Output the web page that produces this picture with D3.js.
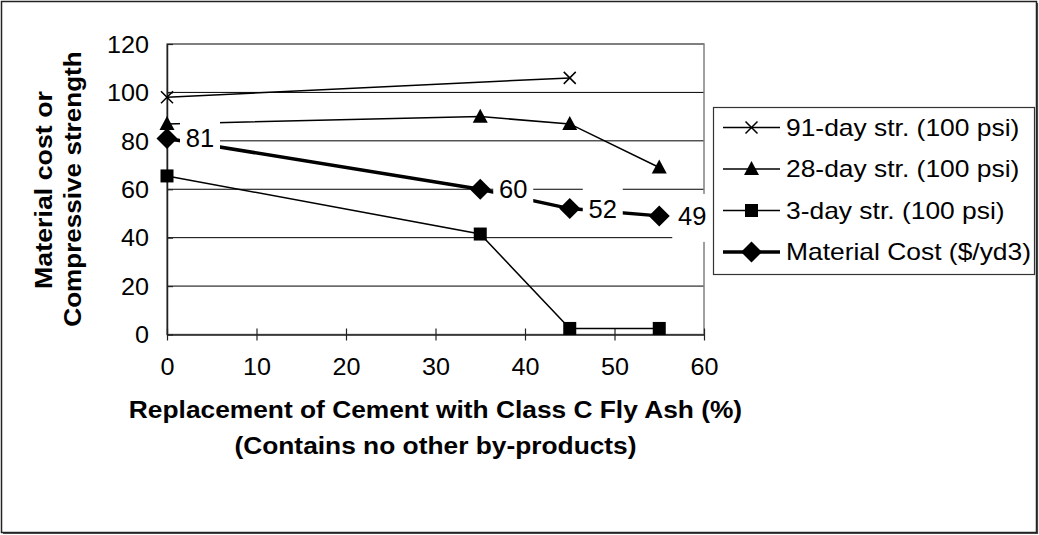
<!DOCTYPE html>
<html><head><meta charset="utf-8">
<script src="https://cdn.jsdelivr.net/npm/d3@7"></script>
<style>body{margin:0;background:#fff}svg{display:block}</style>
</head><body>
<script>
const xValues = [0, 35, 45, 55];
const str91 = [98, null, 106, null];
const str28 = [87, 90, 87, 69];
const str3 = [65.5, 41.5, 2.5, 2.5];
const cost = [81, 60, 52, 49];
const costLabels = ["81", "60", "52", "49"];
const xTicks = [0, 10, 20, 30, 40, 50, 60];
const yTicks = [0, 20, 40, 60, 80, 100, 120];
const legendLabels = ["91-day str. (100 psi)", "28-day str. (100 psi)", "3-day str. (100 psi)", "Material Cost ($/yd3)"];
const xTitle = ["Replacement of Cement with Class C Fly Ash (%)", "(Contains no other by-products)"];
const yTitle = ["Material cost or", "Compressive strength"];

const W = 1039, H = 535;
const FONT = "Arial, 'Liberation Sans', sans-serif";
const svg = d3.select("body").append("svg").attr("width", W).attr("height", H);
svg.append("rect").attr("x",0).attr("y",0).attr("width",W).attr("height",H).attr("fill","#fff");
svg.append("rect").attr("x",1.5).attr("y",1.5).attr("width",1035).attr("height",531)
  .attr("fill","none").attr("stroke","#222").attr("stroke-width",1.5);
svg.append("path").attr("d","M3,533.5H1037.5V3").attr("fill","none").attr("stroke","#444").attr("stroke-width",1.2);

// stretch text along writing direction (the reference font is slightly wide)
function stretch(sel, k){
  sel.each(function(){
    const len = this.getComputedTextLength();
    d3.select(this).attr("textLength", len*k).attr("lengthAdjust","spacingAndGlyphs");
  });
}

const x = d3.scaleLinear().domain([0,60]).range([167,704]);
const y = d3.scaleLinear().domain([0,120]).range([334.5,44]);

// gridlines
svg.append("g").selectAll("line").data(yTicks.filter(d=>d>0)).join("line")
  .attr("x1",x(0)).attr("x2",x(60)).attr("y1",d=>y(d)).attr("y2",d=>y(d))
  .attr("stroke","#000").attr("stroke-width",1);
// plot border
svg.append("rect").attr("x",x(0)).attr("y",y(120)).attr("width",x(60)-x(0)).attr("height",y(0)-y(120))
  .attr("fill","none").attr("stroke","#808080").attr("stroke-width",1.5);

// axes
const xAxis = d3.axisBottom(x).tickValues(xTicks).tickSizeInner(6).tickSizeOuter(0).tickPadding(18);
const gx = svg.append("g").attr("transform",`translate(0,${y(0)})`).call(xAxis);
gx.selectAll(".tick line").attr("y1",-6).attr("stroke","#222").attr("stroke-width",1.2);
gx.select(".domain").attr("stroke","#222").attr("stroke-width",1.5);
gx.selectAll("text").attr("font-family",FONT).attr("font-size",23.5).attr("fill","#000");
stretch(gx.selectAll("text"), 1.07);

const yAxis = d3.axisLeft(y).tickValues(yTicks).tickSizeInner(6).tickSizeOuter(0).tickPadding(12);
const gy = svg.append("g").attr("transform",`translate(${x(0)},0)`).call(yAxis);
gy.selectAll(".tick line").attr("x2",6).attr("stroke","#222").attr("stroke-width",1.2);
gy.select(".domain").attr("stroke","#222").attr("stroke-width",1.5);
gy.selectAll("text").attr("font-family",FONT).attr("font-size",23.5).attr("fill","#000").attr("dy","0.35em");
stretch(gy.selectAll("text"), 1.07);

// series
function pts(vals){ return xValues.map((xv,i)=>[xv, vals[i]]).filter(p=>p[1]!==null); }
const line = d3.line().x(d=>x(d[0])).y(d=>y(d[1]));
const series = [
  {vals:str91, w:1.5, sym:"x"},
  {vals:str28, w:1.5, sym:"tri"},
  {vals:str3, w:1.5, sym:"sq"},
  {vals:cost, w:3.5, sym:"dia"}
];
function drawMarker(g, sym, cx, cy){
  if(sym==="x"){
    g.append("path").attr("d",`M${cx-6},${cy-6}L${cx+6},${cy+6}M${cx-6},${cy+6}L${cx+6},${cy-6}`)
      .attr("stroke","#000").attr("stroke-width",1.5).attr("fill","none");
  } else if(sym==="tri"){
    g.append("path").attr("d",`M${cx},${cy-8}L${cx+7.5},${cy+6}L${cx-7.5},${cy+6}Z`).attr("fill","#000");
  } else if(sym==="sq"){
    g.append("rect").attr("x",cx-6.5).attr("y",cy-6.5).attr("width",13).attr("height",13).attr("fill","#000");
  } else {
    g.append("path").attr("d",`M${cx},${cy-10.5}L${cx+10.5},${cy}L${cx},${cy+10.5}L${cx-10.5},${cy}Z`).attr("fill","#000");
  }
}
series.forEach(s=>{
  const p = pts(s.vals);
  svg.append("path").attr("d",line(p)).attr("fill","none").attr("stroke","#000").attr("stroke-width",s.w);
  const g = svg.append("g");
  p.forEach(d=>drawMarker(g, s.sym, x(d[0]), y(d[1])));
});

// data labels with white background
const lg = svg.append("g");
xValues.forEach((xv,i)=>{
  const cx = x(xv)+33, cy = y(cost[i]);
  lg.append("rect").attr("x",cx-20).attr("y",cy-22).attr("width",40).attr("height",48).attr("fill","#fff");
  lg.append("text").attr("x",cx).attr("y",cy).attr("dy","0.35em").attr("text-anchor","middle")
    .attr("font-family",FONT).attr("font-size",25.5).text(costLabels[i]);
});

// legend
const leg = svg.append("g");
leg.append("rect").attr("x",713.5).attr("y",107.5).attr("width",321).attr("height",167)
  .attr("fill","#fff").attr("stroke","#333").attr("stroke-width",1.2);
const legSyms = ["x","tri","sq","dia"];
const legW = [1.5,1.5,1.5,3.5];
legendLabels.forEach((t,i)=>{
  const ly = 127.5 + i*41.5;
  leg.append("line").attr("x1",723).attr("x2",780).attr("y1",ly).attr("y2",ly)
    .attr("stroke","#000").attr("stroke-width",legW[i]);
  drawMarker(leg, legSyms[i], 751.5, ly);
  const tx = leg.append("text").attr("x",786).attr("y",ly).attr("dy","0.35em")
    .attr("font-family",FONT).attr("font-size",24).text(t);
  stretch(tx, 1.1);
});

// axis titles
const cxT = (x(0)+x(60))/2;
const t1 = svg.append("text").attr("x",cxT).attr("y",410).attr("dy","0.35em").attr("text-anchor","middle")
  .attr("font-family",FONT).attr("font-weight","bold").attr("font-size",23.5).text(xTitle[0]);
const t2 = svg.append("text").attr("x",cxT).attr("y",446).attr("dy","0.35em").attr("text-anchor","middle")
  .attr("font-family",FONT).attr("font-weight","bold").attr("font-size",23.5).text(xTitle[1]);
stretch(t1, 1.12); stretch(t2, 1.12);
const t3 = svg.append("text").attr("transform","translate(44,190) rotate(-90)").attr("dy","0.35em").attr("text-anchor","middle")
  .attr("font-family",FONT).attr("font-weight","bold").attr("font-size",23.5).text(yTitle[0]);
const t4 = svg.append("text").attr("transform","translate(73,189) rotate(-90)").attr("dy","0.35em").attr("text-anchor","middle")
  .attr("font-family",FONT).attr("font-weight","bold").attr("font-size",23.5).text(yTitle[1]);
stretch(t3, 1.14); stretch(t4, 1.11);
</script>
</body></html>
